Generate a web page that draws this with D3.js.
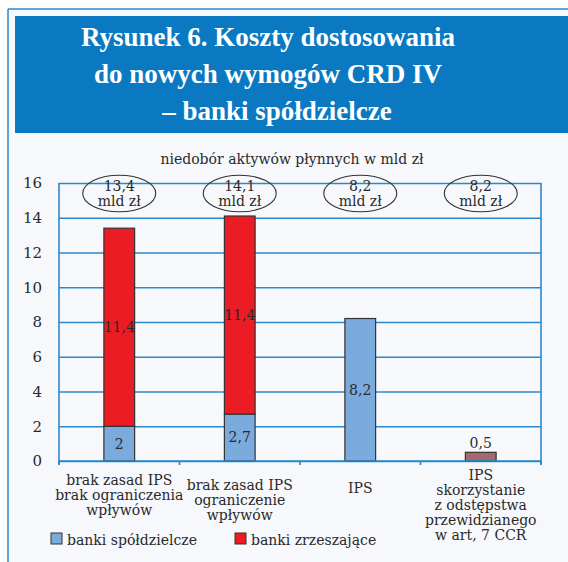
<!DOCTYPE html>
<html><head><meta charset="utf-8">
<script src="https://cdn.jsdelivr.net/npm/d3@7"></script>
<style>
html,body{margin:0;padding:0;background:#fff;}
svg{display:block;}
</style></head>
<body>
<svg id="chart" width="568" height="562"></svg>
<script>
const titleLines = ["Rysunek 6. Koszty dostosowania", "do nowych wymogów CRD IV", "– banki spółdzielcze"];
const subtitle = "niedobór aktywów płynnych w mld zł";
const categories = ["c1", "c2", "c3", "c4"];
const categoryLabels = [
  ["brak zasad IPS", "brak ograniczenia", "wpływów"],
  ["brak zasad IPS", "ograniczenie", "wpływów"],
  ["IPS"],
  ["IPS", "skorzystanie", "z odstępstwa", "przewidzianego", "w art, 7 CCR"]
];
const bankiSpoldzielcze = [2, 2.7, 8.2, 0];
const bankiZrzeszajace = [11.4, 11.4, 0, 0];
const odstepstwo = [0, 0, 0, 0.5];
const totals = ["13,4", "14,1", "8,2", "8,2"];
const seriesNames = ["banki spółdzielcze", "banki zrzeszające"];
const yTicks = [0, 2, 4, 6, 8, 10, 12, 14, 16];

(function () {
const fmt = v => String(v).replace(".", ",");
const svg = d3.select("#chart");
const serif = "'DejaVu Serif', serif";
const gridBlue = "#2a88cc";

// panel background and frame
svg.append("rect").attr("x", 8).attr("y", 9).attr("width", 560).attr("height", 553).attr("fill", "#f6f8fc");
svg.append("line").attr("x1", 8).attr("x2", 8).attr("y1", 9).attr("y2", 562).attr("stroke", "#2a88cc").attr("stroke-width", 1.5);
svg.append("line").attr("x1", 8).attr("x2", 568).attr("y1", 9).attr("y2", 9).attr("stroke", "#2a88cc").attr("stroke-width", 1.5);

// title box
svg.append("rect").attr("x", 15).attr("y", 16).attr("width", 553).attr("height", 117).attr("fill", "#0a79c1");
const titleX = [268, 268, 277];
svg.append("g").selectAll("text").data(titleLines).join("text")
  .attr("x", (d, i) => titleX[i]).attr("y", (d, i) => 46 + i * 37)
  .attr("text-anchor", "middle").attr("fill", "#fff")
  .attr("font-family", "'Liberation Serif', serif").attr("font-weight", "bold").attr("font-size", 27)
  .text(d => d);

// subtitle
svg.append("text").attr("x", 292).attr("y", 164).attr("text-anchor", "middle")
  .attr("font-family", serif).attr("font-size", 14).attr("fill", "#2a2a2a").text(subtitle);

const pLeft = 59, pRight = 541, pTop = 183, pBottom = 461;
const x = d3.scaleBand().domain(categories).range([pLeft, pRight]).padding(0);
const y = d3.scaleLinear().domain([0, 16]).range([pBottom, pTop]);
const bw = x.bandwidth() * 0.255;
const cx = c => x(c) + x.bandwidth() / 2;

// gridlines
const gy = d3.axisLeft(y).tickValues(yTicks).tickSize(-(pRight - pLeft)).tickFormat("");
const gg = svg.append("g").attr("transform", `translate(${pLeft},0)`).call(gy);
gg.select(".domain").remove();
gg.selectAll("line").attr("stroke", gridBlue).attr("stroke-width", 1.6);

// y axis labels
const ya = d3.axisLeft(y).tickValues(yTicks).tickSize(0).tickPadding(17).tickFormat(d => d);
const yg = svg.append("g").attr("transform", `translate(${pLeft},0)`).call(ya);
yg.select(".domain").remove();
yg.selectAll("text").attr("font-family", serif).attr("font-size", 15).attr("fill", "#2a2a2a");

// frame lines
svg.append("line").attr("x1", pLeft).attr("x2", pLeft).attr("y1", pTop).attr("y2", pBottom + 4).attr("stroke", gridBlue).attr("stroke-width", 1.6);
svg.append("line").attr("x1", pRight).attr("x2", pRight).attr("y1", pTop).attr("y2", pBottom + 4).attr("stroke", gridBlue).attr("stroke-width", 1.6);
const edges = categories.map(c => x(c)).concat([pRight]);
svg.append("g").selectAll("line").data(edges).join("line")
  .attr("x1", d => d).attr("x2", d => d).attr("y1", pBottom).attr("y2", pBottom + 4)
  .attr("stroke", gridBlue).attr("stroke-width", 1.6);

// bars
const stroke = "#333";
const bars = svg.append("g");
categories.forEach((c, i) => {
  const b = bankiSpoldzielcze[i], r = bankiZrzeszajace[i], o = odstepstwo[i];
  if (b > 0) bars.append("rect").attr("x", cx(c) - bw / 2).attr("y", y(b)).attr("width", bw).attr("height", y(0) - y(b))
    .attr("fill", "#7aabdc").attr("stroke", stroke).attr("stroke-width", 1.2);
  if (r > 0) bars.append("rect").attr("x", cx(c) - bw / 2).attr("y", y(b + r)).attr("width", bw).attr("height", y(b) - y(b + r))
    .attr("fill", "#ec1c24").attr("stroke", stroke).attr("stroke-width", 1.2);
  if (o > 0) bars.append("rect").attr("x", cx(c) - bw / 2).attr("y", y(o)).attr("width", bw).attr("height", y(0) - y(o))
    .attr("fill", "#a56a6d").attr("stroke", stroke).attr("stroke-width", 1.2);
});
svg.append("line").attr("x1", pLeft).attr("x2", pRight).attr("y1", pBottom).attr("y2", pBottom).attr("stroke", gridBlue).attr("stroke-width", 1.6);

// value labels
const lab = svg.append("g").attr("font-family", serif).attr("font-size", 14).attr("fill", "#2a2a2a").attr("text-anchor", "middle");
categories.forEach((c, i) => {
  const b = bankiSpoldzielcze[i], r = bankiZrzeszajace[i], o = odstepstwo[i];
  if (b > 0) lab.append("text").attr("x", cx(c)).attr("y", y(b / 2)).attr("dy", "0.35em").text(fmt(b));
  if (r > 0) lab.append("text").attr("x", cx(c)).attr("y", y(b + r / 2)).attr("dy", "0.35em").text(fmt(r));
  if (o > 0) lab.append("text").attr("x", cx(c)).attr("y", y(o) - 4).text(fmt(o));
});

// ellipses with totals
const ell = svg.append("g");
categories.forEach((c, i) => {
  ell.append("ellipse").attr("cx", cx(c)).attr("cy", 193.5).attr("rx", 36.5).attr("ry", 18.3)
    .attr("fill", "none").attr("stroke", "#333").attr("stroke-width", 1.1);
  ell.append("text").attr("x", cx(c)).attr("y", 191).attr("text-anchor", "middle")
    .attr("font-family", serif).attr("font-size", 14).attr("fill", "#2a2a2a").text(totals[i]);
  ell.append("text").attr("x", cx(c)).attr("y", 206).attr("text-anchor", "middle")
    .attr("font-family", serif).attr("font-size", 14).attr("fill", "#2a2a2a").text("mld zł");
});

// category labels
const firstBaseline = [485, 490, 493, 480];
const xl = svg.append("g").attr("font-family", serif).attr("font-size", 14).attr("fill", "#2a2a2a").attr("text-anchor", "middle");
categories.forEach((c, i) => {
  categoryLabels[i].forEach((t, j) => {
    xl.append("text").attr("x", cx(c)).attr("y", firstBaseline[i] + j * 15).text(t);
  });
});

// legend
const legendColors = ["#7aabdc", "#ec1c24"];
const legendX = [51, 235];
seriesNames.forEach((n, i) => {
  svg.append("rect").attr("x", legendX[i]).attr("y", 533).attr("width", 11).attr("height", 11)
    .attr("fill", legendColors[i]).attr("stroke", "#333").attr("stroke-width", 1);
  svg.append("text").attr("x", legendX[i] + 16).attr("y", 545)
    .attr("font-family", serif).attr("font-size", 14).attr("fill", "#2a2a2a").text(n);
});
})();
</script>
</body></html>
